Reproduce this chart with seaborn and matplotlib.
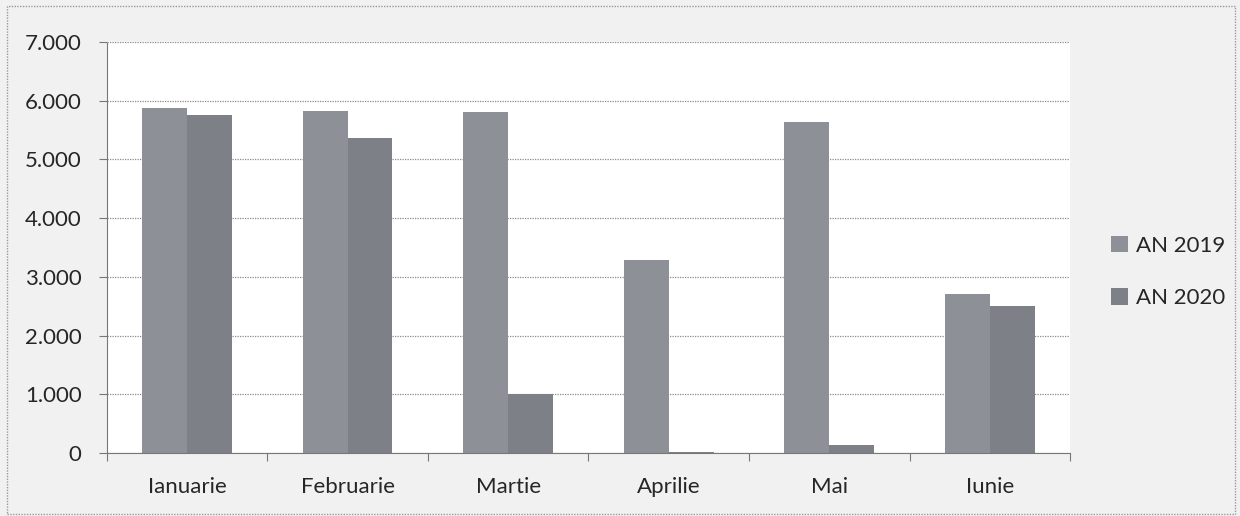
import matplotlib
matplotlib.use("Agg")
import matplotlib.pyplot as plt
import seaborn as sns
import pandas as pd
from matplotlib.ticker import FuncFormatter
from matplotlib.patches import Rectangle

# date
luni = ["Ianuarie", "Februarie", "Martie", "Aprilie", "Mai", "Iunie"]
an_2019 = [5880, 5820, 5810, 3290, 5630, 2710]
an_2020 = [5760, 5370, 1000, 10, 140, 2510]
serii = ["AN 2019", "AN 2020"]

df = pd.DataFrame({
    "luna": luni * 2,
    "valoare": an_2019 + an_2020,
    "serie": [serii[0]] * len(luni) + [serii[1]] * len(luni),
})

sns.set_style("white")
plt.rcParams["font.family"] = ["Lato", "DejaVu Sans"]

fig = plt.figure(figsize=(12.4, 5.16), dpi=100, facecolor="#f1f1f1")
ax = fig.add_axes([0.086, 0.122, 0.777, 0.797])
ax.set_facecolor("white")

# chenarul graficului
fig.patches.append(Rectangle((0.006, 0.004), 0.99, 0.985, transform=fig.transFigure,
                             fill=False, edgecolor="#9a9a9a", linewidth=1.0,
                             linestyle=(0, (1, 1))))

sns.barplot(data=df, x="luna", y="valoare", hue="serie", ax=ax,
            palette=["#8d9096", "#7d8087"], width=0.56, saturation=1,
            edgecolor="none")

ax.set_ylim(0, 7000)
ax.set_xlim(-0.5, 5.5)
ax.set_yticks(range(0, 7001, 1000))
ax.yaxis.set_major_formatter(FuncFormatter(lambda v, p: f"{int(v):,}".replace(",", ".")))
ax.yaxis.grid(True, color="#8a8a8a", linestyle=(0, (1, 1)), linewidth=0.9)
ax.set_axisbelow(True)

# tick-uri intre categorii pe axa x
ax.set_xticks([i - 0.5 for i in range(len(luni) + 1)], minor=False)
ax.set_xticklabels([""] * (len(luni) + 1))
ax.set_xticks(range(len(luni)), minor=True)
ax.set_xticklabels(luni, minor=True)
ax.tick_params(axis="x", which="major", length=6, color="#777777", direction="out")
ax.tick_params(axis="x", which="minor", length=0, labelsize=16, pad=17)
ax.tick_params(axis="y", length=6, color="#777777", direction="out", labelsize=16, pad=12)
ax.tick_params(axis="x", bottom=True)
ax.tick_params(axis="y", left=True)

for s in ["top", "right"]:
    ax.spines[s].set_visible(False)
ax.spines["left"].set_color("#777777")
ax.spines["bottom"].set_color("#777777")
ax.spines["left"].set_linestyle((0, (1, 1)))
ax.spines["bottom"].set_linestyle((0, (1, 1)))

ax.set_xlabel("")
ax.set_ylabel("")

leg = ax.legend(loc="center left", bbox_to_anchor=(1.022, 0.44), frameon=False,
                fontsize=16, handlelength=0.75, handleheight=0.75,
                handletextpad=0.35, labelspacing=1.45)

fig.savefig("out.png", dpi=100, facecolor=fig.get_facecolor())
